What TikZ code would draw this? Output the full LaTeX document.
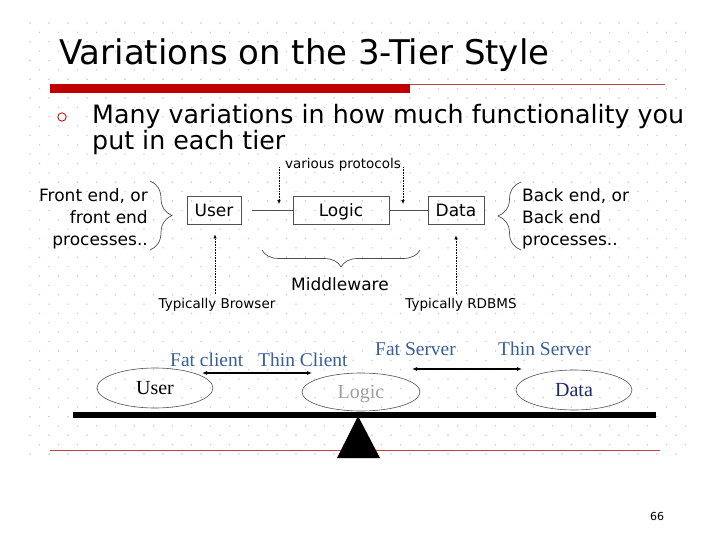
\documentclass[tikz,border=0pt]{standalone}
\usepackage{fontspec}
\setmainfont{DejaVu Sans}
\newfontfamily\timesfont{Liberation Serif}
\usetikzlibrary{calc,arrows.meta,shapes.geometric,decorations.pathreplacing}

\definecolor{slidered}{RGB}{192,0,0}
\definecolor{linered}{RGB}{185,70,70}
\definecolor{dotgray}{RGB}{200,200,200}
\definecolor{fatblue}{RGB}{56,96,150}
\definecolor{datanavy}{RGB}{30,40,110}
\definecolor{logicgray}{RGB}{160,160,160}
\definecolor{edgegray}{RGB}{80,80,80}

\begin{document}
\begin{tikzpicture}[x=1pt,y=-1pt,
	tierbox/.style={draw=edgegray,line width=0.8pt,minimum height=28pt,inner sep=0pt,text height=14pt,text depth=2pt,font=\fontsize{17}{20}\selectfont},
	tierell/.style={draw=edgegray,ellipse,line width=0.6pt,minimum width=116pt,minimum height=40pt,inner sep=0pt,text height=15pt,text depth=2.5pt,font=\timesfont\fontsize{20}{24}\selectfont},
	note/.style={inner sep=0pt,font=\fontsize{13.5}{16}\selectfont},
	side/.style={inner sep=0pt,font=\fontsize{17}{20}\selectfont},
	hint/.style={densely dotted,line width=0.6pt,-{Latex[length=4pt,width=3.5pt]}},
	curly/.style={decorate,decoration={brace,amplitude=#1},draw=edgegray,line width=0.7pt},
	tilt/.style={inner sep=0pt,text=fatblue,font=\timesfont\fontsize{19.5}{22}\selectfont},
	swing/.style={line width=1.4pt,{Latex[length=5pt,width=4pt]}-{Latex[length=5pt,width=4pt]}}]
	\useasboundingbox (0,0) rectangle (720,540);
	\fill[white] (0,0) rectangle (720,540);
	% dotted background
	\foreach \k in {0,...,46}
		\foreach \j in {0,...,34}
			\fill[dotgray] ({30+19*\j+9.5*mod(\k,2)},{23+9.37*\k}) circle (0.8);
	% title and rule
	\node[anchor=base west,inner sep=0pt,font=\fontsize{34}{38}\selectfont] (title) at (59,65) {Variations on the 3-Tier Style};
	\fill[slidered] (50,84) rectangle (410,93);
	\draw[linered,line width=0.8pt] (410,84.5) -- (665,84.5);
	\draw[slidered,line width=0.8pt] (62,117) circle (4.2);
	\node[anchor=base west,inner sep=0pt,font=\fontsize{25.3}{30}\selectfont] (bulletA) at (92,124) {Many variations in how much functionality you};
	\node[anchor=base west,inner sep=0pt,font=\fontsize{25.3}{30}\selectfont] (bulletB) at (92,150) {put in each tier};
	% tiers
	\node[tierbox,minimum width=54pt] (user) at (214,210) {User};
	\node[tierbox,minimum width=96pt] (logic) at (341,210) {Logic};
	\node[tierbox,minimum width=56pt] (data) at (456,210) {Data};
	\draw[edgegray,line width=0.8pt] ([xshift=11pt]user.east) -- (logic.west);
	\draw[edgegray,line width=0.8pt] (logic.east) -- (data.west);
	% protocols
	\node[note,anchor=base] (proto) at (343,169) {various protocols};
	\coordinate (protoL) at (279,167);
	\coordinate (protoR) at (403,167);
	\draw[hint] (protoL) -- (279,204);
	\draw[hint] (protoR) -- (403,204);
	% front end / back end
	\foreach \ln [count=\i] in {{Front end, or},{front end},{processes..}}
		\node[side,anchor=base east] (front\i) at (148,{180.5+21.5*\i}) {\ln};
	\foreach \ln [count=\i] in {{Back end, or},{Back end},{processes..}}
		\node[side,anchor=base west] (back\i) at (522,{180.5+21.5*\i}) {\ln};
	\draw[curly=22pt] (150,181) -- (150,250);
	\draw[curly=23pt] (521,250) -- (521,182);
	\draw[curly=17pt] (420,250) -- (262,250);
	\node[side,anchor=base] (mid) at (340,290) {Middleware};
	% typical products
	\node[note,anchor=base] (browser) at (217,308) {Typically Browser};
	\node[note,anchor=base] (rdbms) at (461,308) {Typically RDBMS};
	\draw[hint] (215,294) -- ([yshift=-10pt]user.south -| 215,0);
	\draw[hint] (456,294) -- ([yshift=-11pt]data.south);
	% the balance
	\node[tilt,anchor=base west] (fatc) at (170,366) {Fat client};
	\node[tilt,anchor=base west] (thinc) at (258,366) {Thin Client};
	\node[tilt,anchor=base west] (fats) at (375,355) {Fat Server};
	\node[tilt,anchor=base west] (thins) at (498,355) {Thin Server};
	\coordinate (cA) at (202,373);
	\coordinate (cB) at (312,373);
	\coordinate (sA) at (412,369);
	\coordinate (sB) at (522,369);
	\draw[swing] (cA) -- (cB);
	\draw[swing] (sA) -- (sB);
	\node[tierell] (uell) at (155,388) {User};
	\node[tierell,text=logicgray,minimum width=118pt,minimum height=38pt] (lell) at (361,392) {Logic};
	\node[tierell,text=datanavy] (dell) at (574,390) {Data};
	\draw[linered,line width=0.8pt] (50,450) -- (660,450);
	\fill[black] (73,412) rectangle (656,418);
	\fill[black] (358,416) -- (380,458) -- (337,458) -- cycle;
	\node[inner sep=0pt,anchor=base,font=\fontsize{11}{13}\selectfont] (page) at (657,520) {66};
\end{tikzpicture}
\end{document}
